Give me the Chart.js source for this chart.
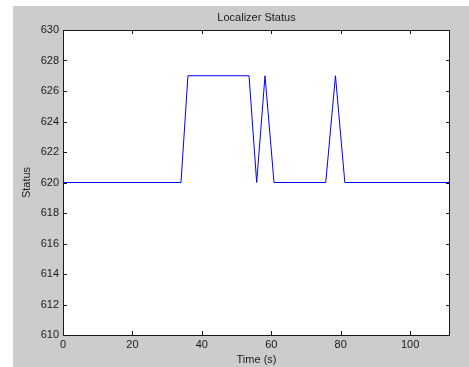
<!DOCTYPE html>
<html>
<head>
<meta charset="utf-8">
<script src="https://cdn.jsdelivr.net/npm/chart.js@4.4.1/dist/chart.umd.min.js"></script>
<style>
  html, body { margin: 0; padding: 0; background: #fff; }
  canvas { display: block; }
</style>
</head>
<body>
<canvas id="myChart" width="469" height="367"></canvas>
<script>
// data
const timeS = [0, 34, 36, 53.6, 55.8, 58.2, 60.8, 75.7, 78.5, 81.2, 111.5];
const status = [620, 620, 627, 627, 620, 627, 620, 620, 627, 620, 620];
const xTicks = [0, 20, 40, 60, 80, 100];
const yTicks = [610, 612, 614, 616, 618, 620, 622, 624, 626, 628, 630];

const xMax = 111.5;
const figGray = '#cccccc';
const inkColor = '#1a1a1a';

let points = [];
for (let i = 0; i < timeS.length; i++) {
    points.push({ x: timeS[i], y: status[i] });
}

/* 회색 배경 + 박스 + 안쪽 눈금 */
const matlabFrame = {
    id: 'matlabFrame',
    beforeDraw(chart) {
        const ctx = chart.ctx;
        const a = chart.chartArea;
        ctx.save();
        ctx.fillStyle = '#ffffff';
        ctx.fillRect(0, 0, chart.width, chart.height);
        ctx.fillStyle = figGray;
        ctx.fillRect(13, 6, chart.width - 13, chart.height - 6);
        ctx.fillStyle = '#ffffff';
        ctx.fillRect(a.left, a.top, a.right - a.left, a.bottom - a.top);
        ctx.restore();
    },
    afterDraw(chart) {
        const ctx = chart.ctx;
        const a = chart.chartArea;
        const xs = chart.scales.x;
        const ys = chart.scales.y;
        const len = 4;
        ctx.save();
        ctx.strokeStyle = inkColor;
        ctx.lineWidth = 1;
        ctx.beginPath();
        xs.ticks.forEach((t) => {
            const px = Math.round(xs.getPixelForValue(t.value)) + 0.5;
            ctx.moveTo(px, a.bottom);
            ctx.lineTo(px, a.bottom - len);
            ctx.moveTo(px, a.top);
            ctx.lineTo(px, a.top + len);
        });
        ys.ticks.forEach((t) => {
            const py = Math.round(ys.getPixelForValue(t.value)) + 0.5;
            ctx.moveTo(a.left, py);
            ctx.lineTo(a.left + len, py);
            ctx.moveTo(a.right, py);
            ctx.lineTo(a.right - len, py);
        });
        ctx.stroke();
        ctx.strokeRect(a.left + 0.5, a.top + 0.5, a.right - a.left - 1, a.bottom - a.top);
        ctx.restore();
    }
};

const chartArea = document.getElementById('myChart').getContext('2d');
const myChart = new Chart(chartArea, {
    type: 'line',
    data: {
        datasets: [{
            label: 'Status',
            data: points,
            borderColor: '#0000ff',
            borderWidth: 1,
            pointRadius: 0,
            tension: 0,
            fill: false
        }]
    },
    options: {
        responsive: false,
        animation: false,
        devicePixelRatio: 1,
        layout: {
            padding: { left: 0, right: 19, top: 0, bottom: 0 }
        },
        plugins: {
            legend: { display: false },
            tooltip: { enabled: false },
            title: {
                display: true,
                fullSize: false,
                text: 'Localizer Status',
                color: inkColor,
                font: { family: 'Liberation Sans', size: 11, weight: 'normal', lineHeight: 1.2 },
                padding: { top: 11, bottom: 5.8 }
            }
        },
        scales: {
            x: {
                type: 'linear',
                min: 0,
                max: xMax,
                afterBuildTicks: (scale) => {
                    scale.ticks = xTicks.map((v) => ({ value: v }));
                },
                afterFit: (scale) => { scale.height = 32; },
                grid: { display: false, drawTicks: false },
                border: { display: false },
                ticks: {
                    color: inkColor,
                    padding: 3,
                    maxRotation: 0,
                    font: { family: 'Liberation Sans', size: 11 }
                },
                title: {
                    display: true,
                    text: 'Time (s)',
                    color: inkColor,
                    font: { family: 'Liberation Sans', size: 11, lineHeight: 1.2 },
                    padding: { top: 0, bottom: 0 }
                }
            },
            y: {
                min: 610,
                max: 630,
                afterBuildTicks: (scale) => {
                    scale.ticks = yTicks.map((v) => ({ value: v }));
                },
                afterFit: (scale) => { scale.width = 63; },
                grid: { display: false, drawTicks: false },
                border: { display: false },
                ticks: {
                    color: inkColor,
                    padding: 4,
                    font: { family: 'Liberation Sans', size: 11 }
                },
                title: {
                    display: true,
                    text: 'Status',
                    color: inkColor,
                    font: { family: 'Liberation Sans', size: 11, lineHeight: 1.2 },
                    padding: { top: 20, bottom: 0 }
                }
            }
        }
    },
    plugins: [matlabFrame]
});
</script>
</body>
</html>
